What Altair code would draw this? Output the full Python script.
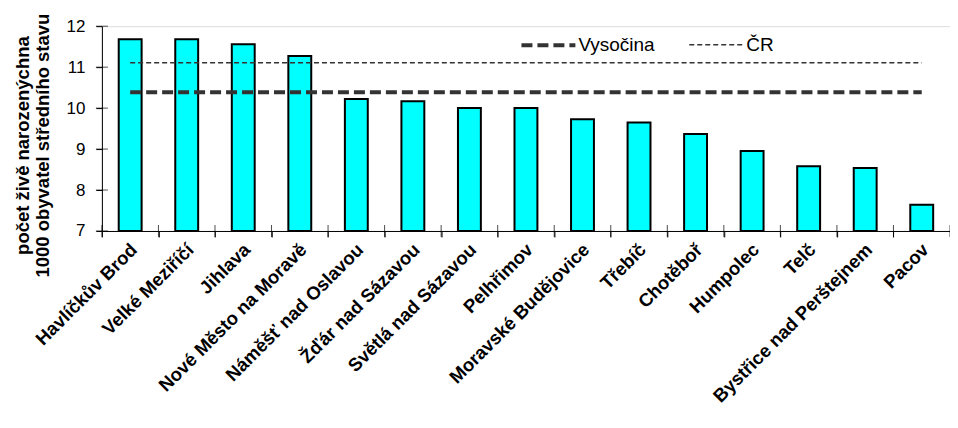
import altair as alt
import pandas as pd

towns = [
    "Havlíčkův Brod", "Velké Meziříčí", "Jihlava", "Nové Město na Moravě",
    "Náměšť nad Oslavou", "Žďár nad Sázavou", "Světlá nad Sázavou", "Pelhřimov",
    "Moravské Budějovice", "Třebíč", "Chotěboř", "Humpolec", "Telč",
    "Bystřice nad Perštejnem", "Pacov",
]
values = [11.68, 11.68, 11.56, 11.27, 10.22, 10.17, 10.00, 10.00,
          9.73, 9.65, 9.37, 8.95, 8.58, 8.54, 7.64]
ref_names = ["Vysočina", "ČR"]
ref_values = [10.39, 11.11]
y_ticks = [7, 8, 9, 10, 11, 12]
y_title = ["počet živě narozenýchna", "1000 obyvatel středního stavu"]

FONT = "Liberation Sans"

bars_df = pd.DataFrame({"town": towns, "value": values})
lines_df = pd.DataFrame({
    "series": [n for n in ref_names for _ in range(2)],
    "town": [towns[0], towns[-1]] * len(ref_names),
    "value": [v for v in ref_values for _ in range(2)],
})
yticks_df = pd.DataFrame({"tick": y_ticks})
end_df = pd.DataFrame({"town": [towns[-1]]})

x_axis = alt.Axis(
    title=None, labelAngle=315, labelAlign="right", labelBaseline="top",
    labelFont=FONT, labelFontSize=18.5, labelFontWeight="bold", labelColor="black",
    labelPadding=3, labelOffset=-3, labelLimit=400, tickSize=6, tickColor="black",
    tickBand="extent", domainColor="black", grid=False,
)
x_scale = alt.Scale(domain=towns, paddingInner=0, paddingOuter=0)

y_axis = alt.Axis(
    title=y_title, values=y_ticks, labelFont=FONT, labelFontSize=17, labelColor="black",
    labelPadding=11, tickSize=6, tickColor="black", domainColor="black", grid=False,
    titleFont=FONT, titleFontSize=18.5, titleFontWeight="bold", titleColor="black",
    titleAngle=270, titleAlign="center", titleBaseline="alphabetic", titleLineHeight=19.5,
    titleX=-73, titleY=119,
)
y_scale = alt.Scale(domain=[7, 12], nice=False, zero=False)


def X(field="town:N", **kw):
    return alt.X(field, sort=towns, scale=x_scale, axis=x_axis, **kw)


bars = alt.Chart(bars_df).mark_bar(
    color="#00FFFF", stroke="black", strokeWidth=2, width=alt.RelativeBandSize(0.405)
).encode(
    x=X(),
    y=alt.Y("value:Q", scale=y_scale, axis=y_axis),
    y2=alt.datum(7),
)

legend = alt.Legend(
    title=None, orient="none", legendX=418, legendY=-10, direction="horizontal",
    columns=2, symbolType="stroke", symbolSize=2916, symbolStrokeColor="#333333",
    labelFont=FONT, labelFontSize=19, labelColor="black", labelOffset=1,
    columnPadding=31, padding=0,
)

lines = alt.Chart(lines_df).mark_line(color="#333333").encode(
    x=X(),
    y=alt.Y("value:Q", scale=y_scale, axis=y_axis),
    strokeDash=alt.StrokeDash(
        "series:N", scale=alt.Scale(domain=ref_names, range=[[11, 5], [5, 3]]), legend=legend
    ),
    strokeWidth=alt.StrokeWidth(
        "series:N", scale=alt.Scale(domain=ref_names, range=[4, 1.5]), legend=legend
    ),
)

xticks_in = alt.Chart(bars_df).mark_tick(
    orient="vertical", size=12, thickness=1, color="black"
).encode(
    x=X(bandPosition=0),
    y=alt.datum(7),
)
xtick_end = alt.Chart(end_df).mark_tick(
    orient="vertical", size=12, thickness=1, color="black"
).encode(
    x=X(bandPosition=1),
    y=alt.datum(7),
)
yticks_in = alt.Chart(yticks_df).mark_tick(
    orient="horizontal", size=12, thickness=1, color="black"
).encode(
    y=alt.Y("tick:Q", scale=y_scale, axis=y_axis),
    x=alt.value(0),
)

chart = alt.layer(bars, lines, xticks_in, xtick_end, yticks_in).properties(
    width=849, height=205,
    padding={"left": 94, "top": 18, "right": 0, "bottom": 190},
    autosize=alt.AutoSizeParams(type="none"),
).configure_view(stroke=None).configure(background="white")

chart.save("out.html", embed_options={"renderer": "svg", "actions": False})
